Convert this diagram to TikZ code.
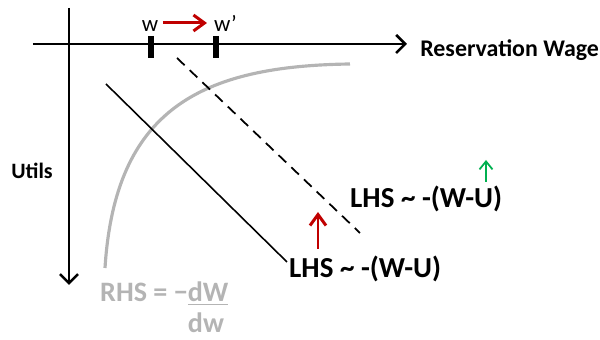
\documentclass[tikz,border=0pt]{standalone}
\usepackage{fontspec}
\setmainfont{Carlito}
\usetikzlibrary{arrows.meta}
\definecolor{darkred}{RGB}{192,0,0}
\definecolor{upgreen}{RGB}{0,176,80}
\definecolor{rhsgray}{RGB}{180,180,180}
\begin{document}
\begin{tikzpicture}[x=0.02cm, y=-0.02cm, every node/.style={font=\bfseries},
  axis/.style={line width=1.5pt, -{Straight Barb[length=1.8mm,width=3.6mm]}},
  tick/.style={line width=3pt},
  shiftarrow/.style={line width=1.7pt, -{Straight Barb[length=2.2mm,width=3.2mm]}}]
  \useasboundingbox (0,0) rectangle (600,340);
  % axes
  \coordinate (O1) at (33,44); \coordinate (X) at (407,44);
  \coordinate (O2) at (69,8); \coordinate (Y) at (69,285);
  \draw[axis] (O1)--(X); \draw[axis] (O2)--(Y);
  \node[anchor=west, inner sep=0pt, font=\bfseries\fontsize{13.6}{16}\selectfont] (xlab) at (420,50) {Reservation Wage};
  \node[font=\bfseries\fontsize{12.5}{14}\selectfont] (ylab) at (32,171) {Utils};
  % wage ticks
  \coordinate (w) at (151,44); \coordinate (w2) at (216,44);
  \draw[tick] (w) ++(0,-8) -- ++(0,22); \draw[tick] (w2) ++(0,-8) -- ++(0,22);
  \node[font=\fontsize{13}{15}\selectfont] (wl) at (150,26) {w};
  \node[font=\fontsize{13}{15}\selectfont, anchor=base west] (wl2) at (208,32) {w’};
  \coordinate (a0) at (163,23); \coordinate (a1) at (207,23);
  \draw[shiftarrow, darkred] (a0)--(a1);
  % RHS curve
  \coordinate (R0) at (105,268); \coordinate (R1) at (350,64);
  \draw[rhsgray, line width=1.8pt] (R0) .. controls (115,110) and (200,66) .. (R1);
  % LHS lines
  \coordinate (L0) at (106,84); \coordinate (L1) at (287,262);
  \coordinate (D0) at (177,58); \coordinate (D1) at (360,233);
  \draw[line width=0.9pt] (L0)--(L1);
  \draw[line width=1pt, dash pattern=on 6pt off 4pt] (D0)--(D1);
  % labels
  \node[anchor=west, font=\bfseries\fontsize{16.5}{18}\selectfont] (lhs) at (283,269) {LHS \textasciitilde{} -(W-U)};
  \node[anchor=west, font=\bfseries\fontsize{16.5}{18}\selectfont] (lhs2) at (344,199) {LHS \textasciitilde{} -(W-U)};
  \coordinate (up0) at (318,249); \coordinate (up1) at (318,212);
  \draw[shiftarrow, darkred] (up0)--(up1);
  \coordinate (g0) at (486,182); \coordinate (g1) at (486,160);
  \draw[line width=1pt, upgreen, -{Straight Barb[length=1.6mm,width=2.6mm]}] (g0)--(g1);
  \node[anchor=west, rhsgray, font=\bfseries\fontsize{16}{18}\selectfont] (rhs) at (94,294) {RHS = −\underline{dW}};
  \node[rhsgray, font=\bfseries\fontsize{16}{18}\selectfont] (rhs2) at (206,323) {dw};
\end{tikzpicture}
\end{document}
